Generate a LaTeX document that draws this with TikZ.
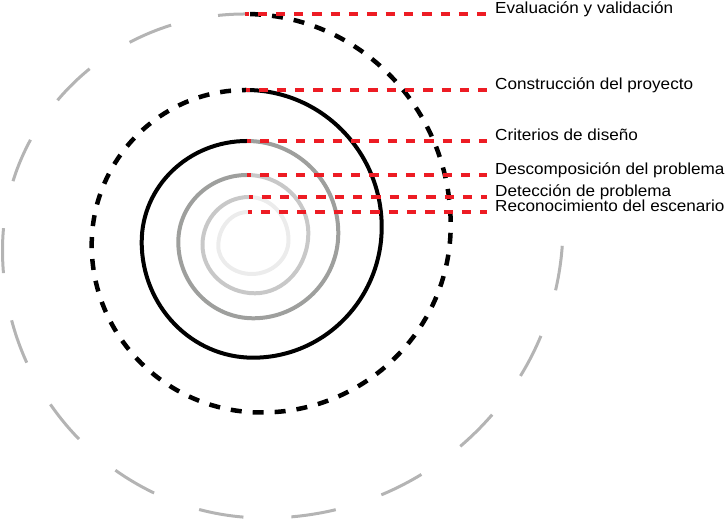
\documentclass[tikz,border=0pt]{standalone}
\usepackage{fontspec}
\setmainfont{Liberation Sans}
\newfontfamily\lblfont[FakeStretch=1.07]{Liberation Sans}
\usetikzlibrary{calc}
\definecolor{ringA}{RGB}{236,236,236}
\definecolor{ringB}{RGB}{200,200,200}
\definecolor{ringC}{RGB}{158,159,157}
\definecolor{ringF}{RGB}{180,180,180}
\definecolor{guide}{RGB}{237,28,36}
\tikzset{
  ringone/.style={line width=4pt, draw=ringA},
  ringtwo/.style={line width=4pt, draw=ringB},
  ringthree/.style={line width=4pt, draw=ringC},
  ringfour/.style={line width=4pt, draw=black},
  ringfive/.style={line width=4.5pt, draw=black, dash pattern=on 11pt off 11pt, dash phase=7pt},
  ringsix/.style={line width=3pt, draw=ringF, dash pattern=on 45pt off 48pt, dash phase=18pt},
  guideline/.style={line width=3.8pt, draw=guide, dash pattern=on 9.3pt off 9pt, dash phase=5.8pt},
  lbl/.style={anchor=base west, inner sep=0pt, font=\lblfont\fontsize{16}{19}\selectfont}
}
\begin{document}
\begin{tikzpicture}[x=1pt,y=1pt]
\useasboundingbox (0,0) rectangle (728,521);
% top points
\coordinate (T0) at (248,309);
\coordinate (T1) at (249,324);
\coordinate (T2) at (247,346);
\coordinate (T3) at (247,380);
\coordinate (T4) at (246,431);
\coordinate (T5) at (245,507);
% left, bottom, right extremes
\coordinate (L1) at (218.3,275);   \coordinate (B1) at (251.7,247);   \coordinate (R1) at (288.5,281);
\coordinate (L2) at (202.5,276);   \coordinate (B2) at (255,227.7);   \coordinate (R2) at (308.3,288);
\coordinate (L3) at (178.3,279);   \coordinate (B3) at (253.3,202.7); \coordinate (R3) at (338.3,288);
\coordinate (L4) at (141.7,279);   \coordinate (B4) at (253,163.3);   \coordinate (R4) at (381.7,294);
\coordinate (L5) at (91.7,276);    \coordinate (B5) at (261.7,108.5); \coordinate (R5) at (450.7,296);
\coordinate (L6) at (2.5,271);     \coordinate (B6) at (265,3);       \coordinate (R6) at (563,296);
% spiral turns
\foreach \a/\b/\c/\d/\e/\s in {T0/L1/B1/R1/T1/ringone, T1/L2/B2/R2/T2/ringtwo, T2/L3/B3/R3/T3/ringthree, T3/L4/B4/R4/T4/ringfour, T4/L5/B5/R5/T5/ringfive}{
  \draw[\s] let \p1=(\a), \p2=(\b), \p3=(\c), \p4=(\d), \p5=(\e) in
    (\a) arc[start angle=90, end angle=180, x radius={\x1-\x2}, y radius={\y1-\y2}]
         arc[start angle=180, end angle=270, x radius={\x3-\x2}, y radius={\y2-\y3}]
         arc[start angle=270, end angle=360, x radius={\x4-\x3}, y radius={\y4-\y3}]
         arc[start angle=0, end angle=90, x radius={\x4-\x5}, y radius={\y5-\y4}];
}
\draw[ringsix] let \p1=(T5), \p2=(L6), \p3=(B6), \p4=(R6) in
    (T5) arc[start angle=90, end angle=180, x radius={\x1-\x2}, y radius={\y1-\y2}]
         arc[start angle=180, end angle=270, x radius={\x3-\x2}, y radius={\y2-\y3}]
         arc[start angle=270, end angle=360, x radius={\x4-\x3}, y radius={\y4-\y3}];
% labels
\node[lbl] (n5) at (495,507) {Evaluación y validación};
\node[lbl] (n4) at (495,431) {Construcción del proyecto};
\node[lbl] (n3) at (495,380) {Criterios de diseño};
\node[lbl] (n2) at (495,346) {Descomposición del problema};
\node[lbl] (n1) at (495,324) {Detección de problema};
\node[lbl] (n0) at (495,309) {Reconocimiento del escenario};
% guide lines
\foreach \t/\n in {T0/n0, T1/n1, T2/n2, T3/n3, T4/n4, T5/n5}{
  \draw[guideline] (\t) -- ([xshift=-8pt]\n.base west);
}
\end{tikzpicture}
\end{document}
